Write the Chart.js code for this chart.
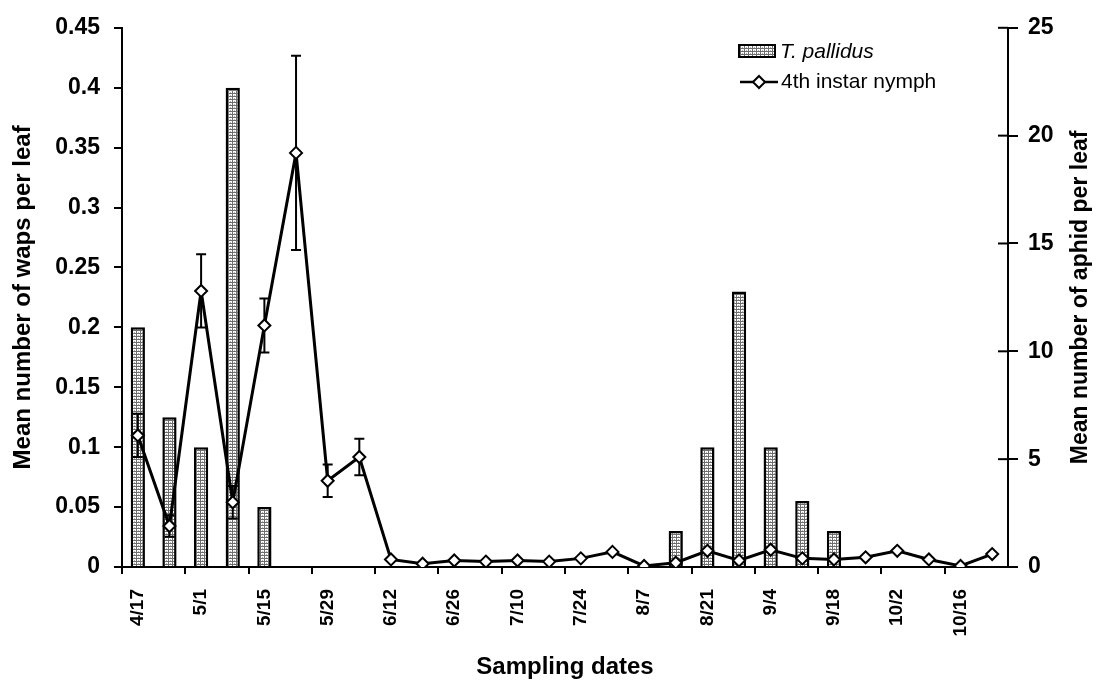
<!DOCTYPE html>
<html>
<head>
<meta charset="utf-8">
<script src="https://cdn.jsdelivr.net/npm/chart.js@4.4.1/dist/chart.umd.min.js"></script>
<style>
html,body{margin:0;padding:0;background:#fff;}
canvas{display:block;}
</style>
</head>
<body>
<canvas id="c" width="1104" height="688"></canvas>
<script>
const dates = ['4/17','4/24','5/1','5/8','5/15','5/22','5/29','6/5','6/12','6/19','6/26','7/3','7/10','7/17','7/24','7/31','8/7','8/14','8/21','8/28','9/4','9/11','9/18','9/25','10/2','10/9','10/16','10/23'];
const dateTickLabels = ['4/17','5/1','5/15','5/29','6/12','6/26','7/10','7/24','8/7','8/21','9/4','9/18','10/2','10/16'];
const waspMeans = [0.2,0.125,0.1,0.4,0.05,null,null,null,null,null,null,null,null,null,null,null,null,0.03,0.1,0.23,0.1,0.055,0.03,null,null,null,null,null];
const nymphMeans = [6.1,1.9,12.8,3.0,11.2,19.2,4.0,5.1,0.35,0.15,0.3,0.25,0.3,0.25,0.4,0.7,0.05,0.2,0.75,0.3,0.8,0.4,0.35,0.45,0.75,0.35,0.05,0.6];
const nymphErrors = [1.0,0.5,1.7,0.75,1.25,4.5,0.75,0.85,null,null,null,null,null,null,null,null,null,null,null,null,null,null,null,null,null,null,null,null];
const waspTickValues = [0,0.05,0.1,0.15,0.2,0.25,0.3,0.35,0.4,0.45];
const waspTickLabels = ['0','0.05','0.1','0.15','0.2','0.25','0.3','0.35','0.4','0.45'];
const aphidTickValues = [0,5,10,15,20,25];
const aphidTickLabels = ['0','5','10','15','20','25'];
const barLabel = 'T. pallidus';
const lineLabel = '4th instar nymph';
const xTitle = 'Sampling dates';
const leftTitle = 'Mean number of waps per leaf';
const rightTitle = 'Mean number of aphid per leaf';

const FONT = "'Liberation Sans', Arial, sans-serif";
const canvas = document.getElementById('c');
const ctx = canvas.getContext('2d');

// bar fill pattern (dotted grey grid)
const pc = document.createElement('canvas');
pc.width = 4; pc.height = 3;
const pctx = pc.getContext('2d');
pctx.fillStyle = '#ffffff'; pctx.fillRect(0,0,4,3);
pctx.fillStyle = '#6e6e6e'; pctx.fillRect(0,0,4,1); pctx.fillRect(0,0,1,3);
pctx.fillStyle = '#b0b0b0'; pctx.fillRect(2,2,1,1);
const barPattern = ctx.createPattern(pc, 'repeat');

const errorBars = {
  id: 'errorBars',
  beforeDatasetDraw(chart, args) {
    if (args.index !== 1) return;
    const c = chart.ctx, xs = chart.scales.x, ys = chart.scales.y1;
    c.save();
    c.strokeStyle = '#000'; c.lineWidth = 2;
    nymphErrors.forEach((e, i) => {
      if (e == null) return;
      const px = xs.getPixelForValue(i);
      const t = ys.getPixelForValue(nymphMeans[i] + e);
      const b = ys.getPixelForValue(Math.max(0, nymphMeans[i] - e));
      c.beginPath();
      c.moveTo(px, t); c.lineTo(px, b);
      c.moveTo(px - 5, t); c.lineTo(px + 5, t);
      c.moveTo(px - 5, b); c.lineTo(px + 5, b);
      c.stroke();
    });
    c.restore();
  }
};

const extras = {
  id: 'extras',
  afterDraw(chart) {
    const c = chart.ctx, ys = chart.scales.y1, area = chart.chartArea;
    c.save();
    c.strokeStyle = '#000'; c.lineWidth = 2;
    aphidTickValues.forEach(v => {
      const py = ys.getPixelForValue(v);
      c.beginPath(); c.moveTo(area.right - 10, py); c.lineTo(area.right, py); c.stroke();
    });
    c.fillStyle = '#000';
    c.font = 'bold 23px ' + FONT;
    c.textAlign = 'center'; c.textBaseline = 'middle';
    c.translate(1081, (area.top + area.bottom) / 2);
    c.rotate(-Math.PI / 2);
    c.fillText(rightTitle, 0, 0);
    c.restore();

    // legend
    c.save();
    c.fillStyle = barPattern;
    c.fillRect(739, 45, 36, 12);
    c.strokeStyle = '#000'; c.lineWidth = 2;
    c.strokeRect(739, 45, 36, 12);
    c.fillStyle = '#000';
    c.textAlign = 'left'; c.textBaseline = 'middle';
    c.font = 'italic 21px ' + FONT;
    c.fillText(barLabel, 780, 52);
    c.beginPath(); c.lineWidth = 2.5;
    c.moveTo(740, 82); c.lineTo(778, 82); c.stroke();
    c.beginPath();
    c.moveTo(753, 82); c.lineTo(759, 76); c.lineTo(765, 82); c.lineTo(759, 88); c.closePath();
    c.fillStyle = '#fff'; c.fill(); c.lineWidth = 2; c.stroke();
    c.fillStyle = '#000';
    c.font = '21px ' + FONT;
    c.fillText(lineLabel, 781, 82);
    c.restore();
  }
};

new Chart(ctx, {
  type: 'bar',
  data: {
    labels: dates,
    datasets: [
      {
        type: 'bar',
        label: barLabel,
        data: waspMeans,
        yAxisID: 'y',
        backgroundColor: barPattern,
        borderColor: '#000',
        borderWidth: 2.5,
        barPercentage: 0.45,
        categoryPercentage: 1.0,
        order: 2
      },
      {
        type: 'line',
        label: lineLabel,
        data: nymphMeans,
        yAxisID: 'y1',
        borderColor: '#000',
        borderWidth: 3,
        tension: 0,
        pointStyle: 'rectRot',
        pointRadius: 6,
        pointBackgroundColor: '#fff',
        pointBorderColor: '#000',
        pointBorderWidth: 2,
        order: 1
      }
    ]
  },
  options: {
    responsive: false,
    animation: false,
    devicePixelRatio: 1,
    layout: { padding: { top: 24, left: 0, right: 0, bottom: 0 } },
    plugins: { legend: { display: false }, tooltip: { enabled: false } },
    scales: {
      x: {
        offset: true,
        afterFit(s) { s.height = 121; },
        grid: {
          offset: true,
          drawOnChartArea: false,
          drawTicks: true,
          tickLength: 7,
          lineWidth: 2,
          color: c => (c.index % 2 === 0 ? '#000' : 'rgba(0,0,0,0)')
        },
        border: { display: true, color: '#000', width: 2 },
        ticks: {
          autoSkip: false,
          minRotation: 90,
          maxRotation: 90,
          padding: 15,
          color: '#000',
          font: { family: FONT, size: 19, weight: 'bold' },
          callback: (v, i) => (dateTickLabels.includes(dates[i]) ? dates[i] : '')
        },
        title: {
          display: true,
          text: xTitle,
          color: '#000',
          font: { family: FONT, size: 24, weight: 'bold' },
          padding: { top: 0, bottom: 6 }
        }
      },
      y: {
        position: 'left',
        min: 0,
        max: 0.45,
        afterFit(s) { s.width = 122; },
        afterBuildTicks(s) { s.ticks = waspTickValues.map(v => ({ value: v })); },
        grid: { drawOnChartArea: false, tickLength: 8, lineWidth: 2, color: '#000' },
        border: { display: true, color: '#000', width: 2 },
        ticks: {
          padding: 14,
          color: '#000',
          font: { family: FONT, size: 23, weight: 'bold' },
          callback: (v, i) => waspTickLabels[i]
        },
        title: {
          display: true,
          text: leftTitle,
          color: '#000',
          font: { family: FONT, size: 24, weight: 'bold' },
          padding: { top: 9, bottom: 0 }
        }
      },
      y1: {
        position: 'right',
        min: 0,
        max: 25,
        afterFit(s) { s.width = 96; },
        afterBuildTicks(s) { s.ticks = aphidTickValues.map(v => ({ value: v })); },
        grid: { drawOnChartArea: false, tickLength: 10, lineWidth: 2, color: '#000' },
        border: { display: true, color: '#000', width: 2 },
        ticks: {
          padding: 10,
          color: '#000',
          font: { family: FONT, size: 23, weight: 'bold' },
          callback: (v, i) => aphidTickLabels[i]
        }
      }
    }
  },
  plugins: [errorBars, extras]
});
</script>
</body>
</html>
